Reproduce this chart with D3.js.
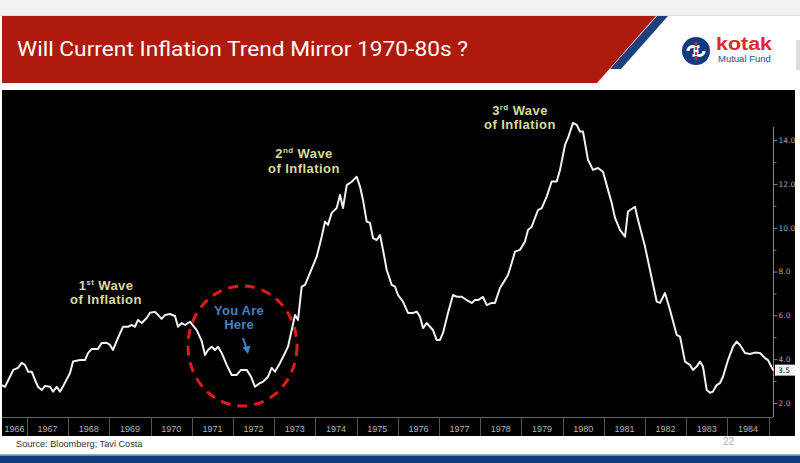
<!DOCTYPE html>
<html><head><meta charset="utf-8">
<script src="https://cdn.jsdelivr.net/npm/d3@7"></script>
<style>body{margin:0;background:#fff;overflow:hidden;} svg{display:block;}</style>
</head><body>
<svg id="c" width="800" height="463"></svg>
<script>
// ---- data ----
const dates = [1966.386,1966.466,1966.667,1966.782,1966.871,1966.950,1967.024,1967.114,1967.194,1967.267,1967.357,1967.437,1967.558,1967.631,1967.721,1967.801,1967.881,1968.044,1968.117,1968.286,1968.408,1968.481,1968.570,1968.723,1968.813,1968.934,1969.015,1969.087,1969.209,1969.330,1969.451,1969.541,1969.621,1969.694,1969.784,1969.905,1969.985,1970.107,1970.180,1970.269,1970.350,1970.471,1970.592,1970.665,1970.755,1970.835,1970.956,
1971.119,1971.240,1971.320,1971.393,1971.483,1971.563,1971.636,1971.726,1971.847,1971.968,1972.090,1972.194,1972.333,1972.437,1972.534,1972.655,1972.728,1972.850,1972.939,1973.019,1973.141,1973.262,1973.335,1973.425,1973.505,1973.578,1973.667,1973.748,1973.869,1974.032,1974.153,1974.233,1974.306,1974.396,1974.517,1974.597,1974.670,1974.760,1974.881,1975.002,1975.083,1975.155,1975.245,1975.325,1975.398,1975.488,1975.568,1975.641,1975.731,1975.852,1975.932,1976.005,1976.126,1976.248,1976.369,1976.459,1976.539,1976.612,1976.702,1976.782,1976.854,1976.944,1977.024,1977.097,1977.218,1977.340,1977.430,1977.551,1977.672,1977.794,1977.874,1977.947,1978.068,1978.158,1978.279,1978.359,1978.481,1978.602,1978.675,1978.765,1978.845,1978.966,1979.087,1979.160,1979.250,1979.403,1979.493,1979.614,1979.735,1979.857,1979.937,1980.058,1980.131,1980.252,1980.342,1980.422,1980.495,1980.617,1980.738,1980.859,1980.981,1981.102,1981.192,1981.272,1981.393,1981.515,1981.587,1981.757,1981.830,1982.000,1982.121,1982.284,1982.364,1982.485,1982.607,1982.769,1982.850,1982.971,1983.092,1983.165,1983.255,1983.335,1983.408,1983.498,1983.578,1983.650,1983.740,1983.820,1983.893,1984.015,1984.136,1984.226,1984.306,1984.427,1984.549,1984.670,1984.791,1984.913,1984.985,1985.107];
const cpi = [2.82,2.74,3.51,3.60,3.83,3.74,3.43,3.43,3.05,2.74,2.59,2.78,2.74,2.52,2.74,2.52,2.78,3.37,3.89,3.96,3.96,4.28,4.47,4.47,4.74,4.75,4.65,4.42,4.97,5.48,5.48,5.56,5.48,5.79,5.65,5.88,6.12,6.16,6.02,5.84,6.02,6.06,5.97,5.48,5.65,5.56,5.71,
5.33,4.83,4.19,4.42,4.57,4.42,4.57,4.28,3.74,3.28,3.28,3.51,3.51,3.20,2.74,2.91,2.97,3.20,3.60,3.43,3.83,4.28,4.57,5.33,6.02,5.79,7.31,7.39,7.94,8.68,9.59,10.28,10.13,10.68,10.90,11.50,10.90,11.95,12.10,12.33,11.88,11.27,10.28,10.22,9.53,9.44,9.67,8.99,8.07,7.39,7.31,6.93,6.63,6.11,6.11,6.17,5.94,5.42,5.65,5.48,5.33,4.88,4.88,5.20,6.11,6.93,6.85,6.85,6.70,6.57,6.70,6.70,6.84,6.47,6.57,6.57,7.25,7.62,7.84,8.39,8.91,8.99,9.37,9.90,10.05,10.81,10.90,11.42,12.11,12.11,12.64,13.78,14.10,14.79,14.70,14.39,14.39,13.10,12.64,12.73,12.56,11.73,11.13,10.45,9.90,9.59,10.74,10.96,10.36,9.14,8.07,6.63,6.57,7.02,6.25,5.11,5.03,3.89,3.74,3.51,3.66,3.89,3.66,2.59,2.47,2.52,2.82,2.91,3.20,3.96,4.57,4.80,4.65,4.28,4.24,4.30,4.28,4.05,3.96,3.51];
const years = d3.range(1966, 1985);
const yMajorTicks = [2,4,6,8,10,12,14];
const yMinorTicks = [3,5,7,9,11,13];
const lastValue = 3.5;
const titleText = "Will Current Inflation Trend Mirror 1970-80s ?";
const sourceText = "Source: Bloomberg; Tavi Costa";
const pageNumber = "22";

// ---- layout ----
const svg = d3.select("#c");
const W = 800, H = 463;
const plotL = 2, plotR = 773, plotT = 127, plotB = 417;

// page header
svg.append("rect").attr("x",0).attr("y",0).attr("width",W).attr("height",15).attr("fill","#f2f2f2");
svg.append("line").attr("x1",0).attr("x2",W).attr("y1",15.5).attr("y2",15.5).attr("stroke","#e2e2e2");
svg.append("polygon").attr("points","2,16 656,16 597,83 2,83").attr("fill","#ae1a0c");
svg.append("polygon").attr("points","657,16 668,16 621,69 610,69").attr("fill","#1d3f7a");
svg.append("text").attr("x",17).attr("y",56).attr("fill","#fff")
  .attr("font-family","Roboto, 'Liberation Sans', sans-serif").attr("font-size",21)
  .attr("textLength",451).attr("lengthAdjust","spacingAndGlyphs")
  .text(titleText);

// logo
const lg = svg.append("g");
lg.append("circle").attr("cx",696).attr("cy",51).attr("r",14).attr("fill","#0f3a7c");
lg.append("path").attr("d","M688,51 a4.5,4.5 0 1,1 4.5,4.5 M704,51 a4.5,4.5 0 1,1 -4.5,-4.5")
  .attr("fill","none").attr("stroke","#fff").attr("stroke-width",3.2);
lg.append("line").attr("x1",696).attr("x2",696).attr("y1",42).attr("y2",60).attr("stroke","#e3262f").attr("stroke-width",2).attr("stroke-dasharray","3,2");
lg.append("text").attr("x",716).attr("y",50).attr("fill","#e3262f")
  .attr("font-family","'Liberation Sans', Arial, sans-serif").attr("font-weight","bold").attr("font-size",18)
  .attr("textLength",56).attr("lengthAdjust","spacingAndGlyphs").text("kotak");
lg.append("text").attr("x",718).attr("y",62).attr("fill","#244c8c")
  .attr("font-family","'Liberation Sans', Arial, sans-serif").attr("font-size",9.5).text("Mutual Fund");
svg.append("rect").attr("x",796).attr("y",40).attr("width",4).attr("height",30).attr("fill","#ddd");

// black chart panel
svg.append("rect").attr("x",2).attr("y",90).attr("width",793).attr("height",346).attr("fill","#000");

// scales
const x = d3.scaleLinear().domain([1966.393, 1985.107]).range([plotL, plotR]);
const y = d3.scaleLinear().domain([1.36, 14.6]).range([plotB, plotT]);

// frame lines
svg.append("line").attr("x1",plotL).attr("x2",plotR).attr("y1",plotB+0.5).attr("y2",plotB+0.5).attr("stroke","#666").attr("stroke-width",1);
svg.append("line").attr("x1",plotR+0.5).attr("x2",plotR+0.5).attr("y1",plotT).attr("y2",plotB).attr("stroke","#888").attr("stroke-width",1);

// year boxes
const yrG = svg.append("g");
years.forEach(yr => {
  const b = x(yr+1);
  yrG.append("line").attr("x1",Math.round(b)+0.5).attr("x2",Math.round(b)+0.5).attr("y1",plotB).attr("y2",436).attr("stroke","#555");
  const l = Math.max(plotL, x(yr)), r = Math.min(plotR, x(yr+1));
  yrG.append("text").attr("x",(l+r)/2).attr("y",432).attr("text-anchor","middle")
    .attr("fill","#b4b4b4").attr("font-family","'Liberation Sans', Arial, sans-serif").attr("font-size",9).text(yr);
});

// right axis
const ax = d3.axisRight(y).tickValues(yMajorTicks).tickSize(4).tickFormat(d3.format(".1f"));
const axG = svg.append("g").attr("transform",`translate(${plotR+0.5},0)`).call(ax);
axG.select(".domain").remove();
axG.selectAll(".tick line").attr("stroke","#888");
axG.selectAll(".tick text").attr("fill","#a8a8a8").attr("font-family","'DejaVu Sans', Verdana, sans-serif").attr("font-size",7.5).attr("x",5);
const axMin = d3.axisRight(y).tickValues(yMinorTicks).tickSize(3).tickFormat("");
const axMinG = svg.append("g").attr("transform",`translate(${plotR+0.5},0)`).call(axMin);
axMinG.select(".domain").remove();
axMinG.selectAll(".tick line").attr("stroke","#777");

// last value label
const lvY = y(lastValue);
svg.append("rect").attr("x",plotR+2).attr("y",lvY-5.5).attr("width",20).attr("height",11).attr("fill","#f4f4f4");
svg.append("text").attr("x",plotR+5).attr("y",lvY+3).attr("fill","#111").attr("font-family","'DejaVu Sans', Verdana, sans-serif").attr("font-size",7.5).text(lastValue.toFixed(1));

// the line
const pts = dates.map((d,i)=>[d,cpi[i]]);
const line = d3.line().x(d=>x(d[0])).y(d=>y(d[1]));
svg.append("path").datum(pts).attr("d",line).attr("fill","none").attr("stroke","#f2f2f2")
  .attr("stroke-width",2).attr("stroke-linejoin","round").attr("stroke-linecap","round");

// annotations
const annFont = "'Liberation Sans', Arial, sans-serif";
const LS = 14.8;
function wave(cx, y1, num, sup){
  const t = svg.append("text").attr("x",cx).attr("y",y1).attr("text-anchor","middle")
    .attr("fill","#d6dc9e").attr("font-family",annFont).attr("font-weight","bold").attr("font-size",13)
    .attr("letter-spacing",0.4);
  t.append("tspan").text(num);
  t.append("tspan").attr("font-size",8).attr("dy",-5).text(sup);
  t.append("tspan").attr("dy",5).text(" Wave");
  svg.append("text").attr("x",cx).attr("y",y1+LS).attr("text-anchor","middle")
    .attr("fill","#d6dc9e").attr("font-family",annFont).attr("font-weight","bold").attr("font-size",13)
    .attr("letter-spacing",0.45).text("of Inflation");
}
wave(106, 289.5, "1", "st");
wave(304, 158, "2", "nd");
wave(520, 114.5, "3", "rd");

svg.append("text").attr("x",239).attr("y",314.5).attr("text-anchor","middle").attr("fill","#3d86c6")
  .attr("font-family",annFont).attr("font-weight","bold").attr("font-size",13).attr("letter-spacing",0.2).text("You Are");
svg.append("text").attr("x",239).attr("y",314.5+LS).attr("text-anchor","middle").attr("fill","#3d86c6")
  .attr("font-family",annFont).attr("font-weight","bold").attr("font-size",13).attr("letter-spacing",0.2).text("Here");
svg.append("line").attr("x1",243).attr("y1",338).attr("x2",246.6).attr("y2",349).attr("stroke","#3d86c6").attr("stroke-width",2);
svg.append("polygon").attr("points","242.5,347.5 250.5,345.5 248,354").attr("fill","#3d86c6");

svg.append("ellipse").attr("cx",242.5).attr("cy",346).attr("rx",54.5).attr("ry",60)
  .attr("fill","none").attr("stroke","#e01b1b").attr("stroke-width",3).attr("stroke-dasharray","10,7");

// footer
svg.append("text").attr("x",16).attr("y",447).attr("fill","#333").attr("font-family","'Liberation Sans', Arial, sans-serif").attr("font-size",9.2).text(sourceText);
svg.append("text").attr("x",723).attr("y",445).attr("fill","#b0b0b0").attr("font-family","'Liberation Sans', Arial, sans-serif").attr("font-size",10).text(pageNumber);
svg.append("rect").attr("x",0).attr("y",454).attr("width",W).attr("height",1.5).attr("fill","#8fb0d6");
svg.append("rect").attr("x",0).attr("y",455.5).attr("width",W).attr("height",7.5).attr("fill","#0d3c78");
</script>
</body></html>
